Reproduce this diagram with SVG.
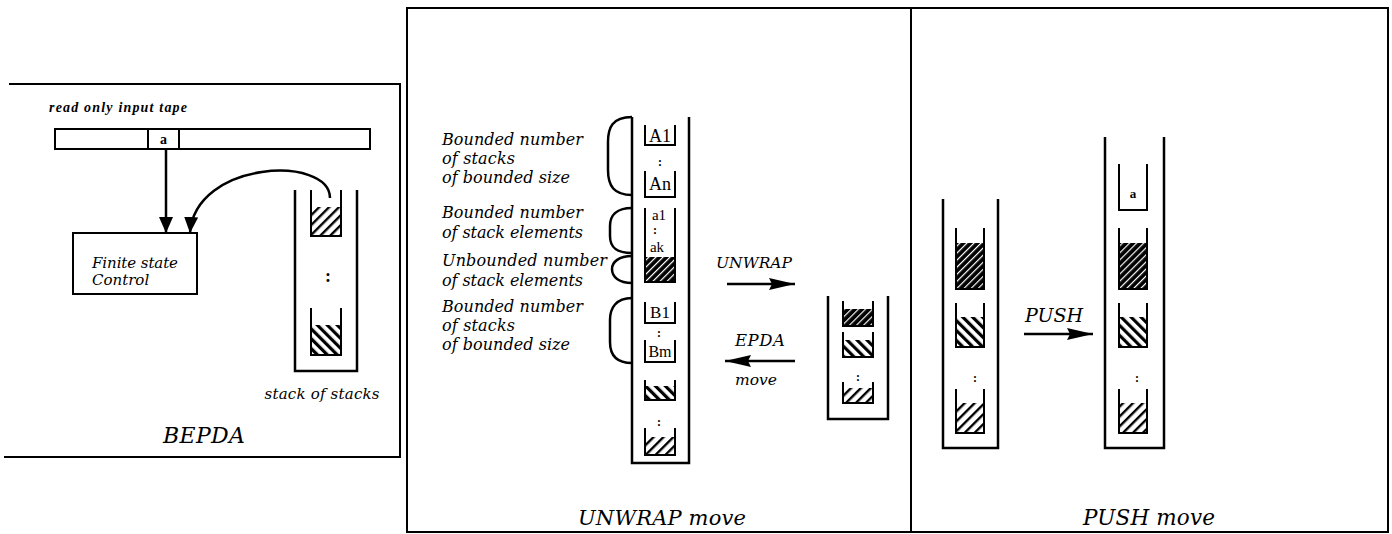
<svg xmlns="http://www.w3.org/2000/svg" width="1392" height="534" viewBox="0 0 1392 534">
<style>
.ln{stroke:#000;stroke-width:2;fill:none;stroke-linecap:square}
.thk{stroke:#000;stroke-width:2.5;fill:none}
.u{stroke:#000;stroke-width:2;fill:none}
.it{font-family:"DejaVu Serif","Liberation Serif",serif;font-style:italic;fill:#000}
.rm{font-family:"Liberation Serif",serif;fill:#000}
.bd{font-family:"Liberation Serif",serif;font-weight:bold;fill:#000}
.dot{font-family:"Liberation Serif",serif;font-size:12px;font-weight:bold;text-anchor:middle;fill:#000}
.dotl{font-family:"Liberation Serif",serif;font-size:18px;font-weight:bold;text-anchor:middle;fill:#000}
</style>
<defs>
<pattern id="hl" width="7" height="7" patternUnits="userSpaceOnUse" patternTransform="rotate(45)">
<rect width="7" height="7" fill="#fff"/><rect width="2.4" height="7" fill="#000"/>
</pattern>
<pattern id="hb" width="7" height="7" patternUnits="userSpaceOnUse" patternTransform="rotate(-45)">
<rect width="7" height="7" fill="#fff"/><rect width="3.2" height="7" fill="#000"/>
</pattern>
<pattern id="hd" width="5" height="5" patternUnits="userSpaceOnUse" patternTransform="rotate(45)">
<rect width="5" height="5" fill="#000"/><rect width="1.2" height="5" fill="#fff"/>
</pattern>
<marker id="ah" viewBox="0 0 16 14" refX="16" refY="7" markerWidth="16" markerHeight="14" markerUnits="userSpaceOnUse" orient="auto">
<path d="M0,0 L16,7 L0,14 Z" fill="#000"/>
</marker>
<marker id="ahl" viewBox="0 0 26 12" refX="26" refY="6" markerWidth="26" markerHeight="12" markerUnits="userSpaceOnUse" orient="auto">
<path d="M0,0 L26,6 L0,12 L3,6 Z" fill="#000"/>
</marker>
</defs>
<rect width="1392" height="534" fill="#fff"/>

<!-- frames -->
<g id="frame-bepda">
<path class="ln" d="M10,84 H400 V457 M5,457 H400"/>
<text class="it" x="204" y="443" font-size="22" text-anchor="middle" textLength="82">BEPDA</text>
</g>
<g id="frame-unwrap">
<path class="ln" d="M407,8 H911 V532 H407 Z"/>
<text class="it" x="662" y="525" font-size="21" text-anchor="middle" textLength="168">UNWRAP move</text>
</g>
<g id="frame-push">
<path class="ln" d="M911,8 H1388 V532 H911"/>
<text class="it" x="1149" y="525" font-size="21.5" text-anchor="middle" textLength="132">PUSH move</text>
</g>

<!-- BEPDA panel -->
<g id="tape">
<text class="bd" x="49" y="112" font-size="14" font-style="italic" textLength="138">read only input tape</text>
<rect class="u" x="55" y="129" width="315" height="20"/>
<path class="u" d="M148,129 V149 M179,129 V149"/>
<text class="bd" x="163.5" y="144" font-size="14" text-anchor="middle">a</text>
</g>
<g id="finite-state-control">
<rect class="u" x="73" y="233" width="124" height="61"/>
<text class="it" x="92" y="268" font-size="15" textLength="86">Finite state</text>
<text class="it" x="92" y="285" font-size="15">Control</text>
</g>
<g id="stack-of-stacks">
<path class="thk" d="M295,190 V371 H357 V190"/>
<rect x="311" y="207" width="30" height="29" fill="url(#hl)"/>
<path class="u" d="M311,190 V236 H341 V190"/>
<text class="dotl" x="328" y="282">:</text>
<rect x="311" y="325" width="30" height="30" fill="url(#hb)"/>
<path class="u" d="M311,308 V355 H341 V308"/>
<text class="it" x="322" y="399" font-size="15" text-anchor="middle" textLength="115">stack of stacks</text>
</g>

<!-- UNWRAP panel -->
<g id="labels">
<text class="it" font-size="16" x="442" y="145" textLength="141">Bounded number</text>
<text class="it" font-size="16" x="442" y="164" textLength="73">of stacks</text>
<text class="it" font-size="16" x="442" y="183" textLength="128">of bounded size</text>
<text class="it" font-size="16" x="442" y="218" textLength="141">Bounded number</text>
<text class="it" font-size="16" x="442" y="238" textLength="141">of stack elements</text>
<text class="it" font-size="16" x="442" y="266" textLength="165">Unbounded number</text>
<text class="it" font-size="16" x="442" y="286" textLength="141">of stack elements</text>
<text class="it" font-size="16" x="442" y="312" textLength="141">Bounded number</text>
<text class="it" font-size="16" x="442" y="331" textLength="73">of stacks</text>
<text class="it" font-size="16" x="442" y="350" textLength="128">of bounded size</text>
</g>
<g id="braces">
<path class="thk" d="M632,117 C612,117 608,128 608,142 L608,170 C608,186 614,195 632,195"/>
<path class="thk" d="M632,208 C616,208 610,216 610,226 L610,236 C610,247 616,253 632,253"/>
<path class="thk" d="M632,256 C619,256 612,262 612,269 C612,277 619,283 632,283"/>
<path class="thk" d="M632,298 C616,298 610,308 610,320 L610,342 C610,355 616,363 632,363"/>
</g>
<g id="big-stack">
<path class="thk" d="M632,117 V463 H689 V117"/>
<path class="u" d="M645,125 V145 H675 V125"/>
<text class="rm" x="660" y="142" font-size="18" text-anchor="middle">A1</text>
<text class="dot" x="660" y="166">:</text>
<path class="u" d="M645,171 V197 H675 V171"/>
<text class="rm" x="660" y="190" font-size="18" text-anchor="middle">An</text>
<rect x="646" y="257" width="28" height="25" fill="url(#hd)"/>
<path class="u" d="M645,208 V282 H675 V208"/>
<text class="rm" x="659" y="220" font-size="15" text-anchor="middle">a1</text>
<text class="dot" x="655" y="234" font-size="6">:</text>
<text class="rm" x="657" y="252" font-size="15" text-anchor="middle">ak</text>
<path class="u" d="M645,302 V323 H675 V302"/>
<text class="rm" x="660" y="318" font-size="17" text-anchor="middle">B1</text>
<text class="dot" x="659" y="337">:</text>
<path class="u" d="M645,340 V362 H675 V340"/>
<text class="rm" x="660" y="357" font-size="16" text-anchor="middle">Bm</text>
<rect x="646" y="386" width="28" height="14" fill="url(#hb)"/>
<path class="u" d="M645,380 V400 H675 V380"/>
<text class="dot" x="659" y="426">:</text>
<rect x="646" y="437" width="28" height="18" fill="url(#hl)"/>
<path class="u" d="M645,428 V455 H675 V428"/>
</g>
<g id="small-stack">
<path class="thk" d="M828,296 V419 H888 V296"/>
<rect x="844" y="309" width="28" height="17" fill="url(#hd)"/>
<path class="u" d="M843,301 V326 H873 V301"/>
<rect x="844" y="340" width="28" height="17" fill="url(#hb)"/>
<path class="u" d="M843,332 V357 H873 V332"/>
<text class="dot" x="858" y="381">:</text>
<rect x="844" y="388" width="28" height="15" fill="url(#hl)"/>
<path class="u" d="M843,382 V403 H873 V382"/>
</g>
<g id="unwrap-labels">
<text class="it" x="754" y="268" font-size="15.5" text-anchor="middle" textLength="76">UNWRAP</text>
<text class="it" x="760" y="346" font-size="16.5" text-anchor="middle" textLength="50">EPDA</text>
<text class="it" x="756" y="385" font-size="15.5" text-anchor="middle" textLength="42">move</text>
</g>

<!-- PUSH panel -->
<g id="push-before">
<path class="thk" d="M943,199 V448 H998 V199"/>
<rect x="957" y="243" width="26" height="46" fill="url(#hd)"/>
<path class="u" d="M956,228 V289 H984 V228"/>
<rect x="957" y="317" width="26" height="30" fill="url(#hb)"/>
<path class="u" d="M956,303 V347 H984 V303"/>
<text class="dot" x="975" y="382">:</text>
<rect x="957" y="403" width="26" height="30" fill="url(#hl)"/>
<path class="u" d="M956,389 V433 H984 V389"/>
</g>
<g id="push-after">
<path class="thk" d="M1105,137 V448 H1164 V137"/>
<path class="u" d="M1119,164 V210 H1147 V164"/>
<text class="bd" x="1133" y="198" font-size="13" text-anchor="middle">a</text>
<rect x="1120" y="243" width="26" height="46" fill="url(#hd)"/>
<path class="u" d="M1119,228 V289 H1147 V228"/>
<rect x="1120" y="317" width="26" height="30" fill="url(#hb)"/>
<path class="u" d="M1119,303 V347 H1147 V303"/>
<text class="dot" x="1137" y="382">:</text>
<rect x="1120" y="403" width="26" height="30" fill="url(#hl)"/>
<path class="u" d="M1119,389 V433 H1147 V389"/>
</g>
<g id="push-label">
<text class="it" x="1054" y="322" font-size="19" text-anchor="middle" textLength="58">PUSH</text>
</g>

<!-- connectors -->
<g id="connectors">
<path class="thk" d="M166,149 V233" marker-end="url(#ah)"/>
<path class="thk" d="M330,198 C330,155 195,160 190,233" marker-end="url(#ah)"/>
<path class="thk" d="M727,284 H795" marker-end="url(#ahl)"/>
<path class="thk" d="M795,361 H725" marker-end="url(#ahl)"/>
<path class="thk" d="M1024,334 H1093" marker-end="url(#ahl)"/>
</g>
</svg>
